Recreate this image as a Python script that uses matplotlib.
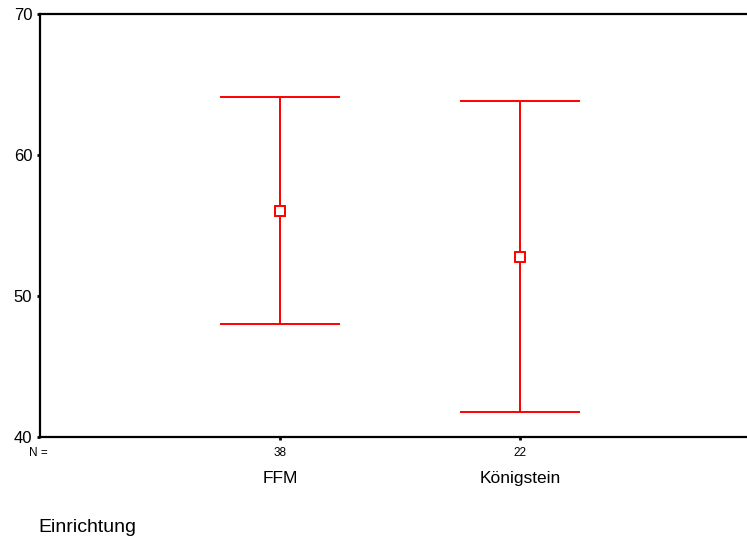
import matplotlib
matplotlib.use("Agg")
import matplotlib.pyplot as plt
import matplotlib.transforms as mtransforms

plt.rcParams["font.family"] = ["Liberation Sans", "DejaVu Sans"]

# Mean and 95% CI per group
groups = ["FFM", "Königstein"]
counts = [38, 22]
means = [56.0, 52.8]
ci_low = [48.0, 41.8]
ci_high = [64.1, 63.8]
y_ticks = [40, 50, 60, 70]

red = "#ff0000"
positions = [1, 2]

fig = plt.figure(figsize=(7.47, 5.39), dpi=100)
# axes run off the right edge of the figure
ax = fig.add_axes([40 / 747, 1 - 437 / 539, 720 / 747, 423 / 539])

for x, m, lo, hi in zip(positions, means, ci_low, ci_high):
    ax.vlines(x, lo, hi, color=red, lw=1.4)
    ax.hlines([lo, hi], x - 0.25, x + 0.25, color=red, lw=1.4)
    ax.plot(x, m, marker="s", ms=7, mfc="white", mec=red, mew=1.4, zorder=3)

ax.set_xlim(0, 3)
ax.set_ylim(40, 70)
ax.set_yticks(y_ticks)
ax.set_yticklabels([str(v) for v in y_ticks], fontsize=12)
ax.set_xticks(positions)
ax.set_xticklabels([str(n) for n in counts], fontsize=8.5)

ax.tick_params(axis="both", direction="out", length=2.5, width=2, color="black", pad=3)
ax.tick_params(axis="y", pad=3)
ax.tick_params(axis="x", pad=5)
for side in ["left", "bottom", "top"]:
    ax.spines[side].set_linewidth(1.6)
ax.spines["right"].set_visible(False)

# group names under the counts
trans = mtransforms.blended_transform_factory(ax.transData, ax.transAxes)
for x, name in zip(positions, groups):
    ax.annotate(name, xy=(x, 0), xycoords=trans, xytext=(0, -30),
                textcoords="offset points", ha="center", va="center", fontsize=12.5)

ax.annotate("N =", xy=(0, 0), xycoords="axes fraction", xytext=(-1.5, -11.5),
            textcoords="offset points", ha="center", va="center", fontsize=8.5)

fig.text(38 / 747, 1 - 527 / 539, "Einrichtung", ha="left", va="center", fontsize=14)

fig.savefig("out.png", dpi=100)
